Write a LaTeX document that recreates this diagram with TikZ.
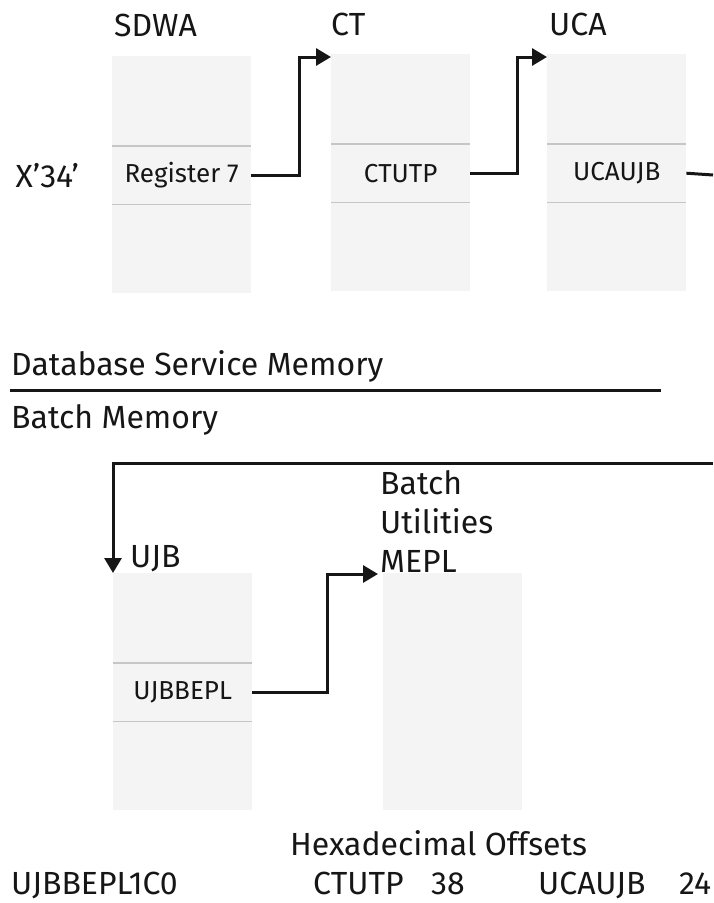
\documentclass[tikz,border=0pt]{standalone}
\usepackage{fontspec}
\setmainfont{Fira Sans}
\usetikzlibrary{arrows.meta,positioning}
\definecolor{ink}{HTML}{161616}
\definecolor{blokkfyll}{HTML}{F4F4F4}
\definecolor{strek}{HTML}{C6C6C6}
\tikzset{
    >={Triangle[length=15pt,width=17pt]},
    blokk/.style={
           rectangle,
           fill=blokkfyll, draw=none,
           minimum width=139pt,
           minimum height=237pt,
           inner sep=0pt,
           anchor=north west},
    felt/.style={
           rectangle,
           minimum width=139pt,
           minimum height=58pt,
           inner sep=0pt,
           text=ink,
           font=\fontsize{26}{30}\selectfont},
    navn/.style={
           inner sep=0pt,
           text=ink,
           font=\fontsize{32}{39}\selectfont},
    linje/.style={
           ink,
           line width=3pt},
    pil/.style={
           ->,
           linje},
    skille/.style={
           strek,
           line width=1.5pt}
}
\begin{document}
\begin{tikzpicture}[x=1pt, y=-1pt]
        \useasboundingbox (0,0) rectangle (713,903);
        \node[blokk] (sdwa) at (112,56) {};
        \node[blokk] (ct) at (331,54) {};
        \node[blokk] (uca) at (547,54) {};
        \node[blokk] (ujb) at (113,573) {};
        \node[blokk] (mepl) at (383,573) {};
        \node[felt, below=90pt of sdwa.north] (reg7) {Register 7};
        \node[felt, below=90pt of ct.north] (ctutp) {CTUTP};
        \node[felt, below=90pt of uca.north] (ucaujb) {UCAUJB};
        \node[felt, below=90pt of ujb.north] (ujbbepl) {UJBBEPL};
        \foreach \f in {reg7,ctutp,ucaujb,ujbbepl}
            \draw[skille] (\f.north west) -- (\f.north east)
                          (\f.south west) -- (\f.south east);
        \node[navn, anchor=base west] (sdwanavn) at ([xshift=2pt, yshift=20pt]sdwa.north west) {SDWA};
        \node[navn, anchor=base west] (ctnavn) at ([yshift=19pt]ct.north west) {CT};
        \node[navn, anchor=base west] (ucanavn) at ([xshift=2pt, yshift=19pt]uca.north west) {UCA};
        \node[navn, anchor=base west] (ujbnavn) at ([xshift=17pt, yshift=6pt]ujb.north west) {UJB};
        \node[navn, align=left, anchor=south west] (meplnavn) at ([xshift=-3pt]mepl.north west) {Batch\\Utilities\\MEPL};
        \node[navn, left=33pt of reg7] (x34) {X’34’};
        \node[navn, anchor=base west] (dbmem) at (11,375) {Database Service Memory};
        \coordinate (skilleV) at (10,390);
        \coordinate (skilleH) at (661,390);
        \draw[linje] (skilleV) -- (skilleH);
        \node[navn, anchor=base west] (batchmem) at (11,428) {Batch Memory};
        \draw[pil] (reg7.east) -- ++(48,0) |- ([yshift=-3pt]ct.north west);
        \draw[pil] (ctutp.east) -- ++(47,0) |- ([yshift=-3pt]uca.north west);
        \coordinate (utH) at (713,175);
        \draw[linje] (ucaujb.east) -- (utH);
        \coordinate (innH) at (713,463);
        \draw[pil] (innH) -| (ujb.north west);
        \draw[pil, shorten >=5pt] (ujbbepl.east) -- ++(75,0) |- ([yshift=-1pt]mepl.north west);
        \node[navn, anchor=base west] (hexnavn) at (290,855) {Hexadecimal Offsets};
        \node[navn, anchor=base west] (off1) at (11,894) {UJBBEPL1C0};
        \node[navn, anchor=base west] (off2) at (313,894) {CTUTP};
        \node[navn, anchor=base west] (off2v) at (431,894) {38};
        \node[navn, anchor=base west] (off3) at (538,894) {UCAUJB};
        \node[navn, anchor=base west] (off3v) at (679,894) {24};
\end{tikzpicture}
\end{document}
